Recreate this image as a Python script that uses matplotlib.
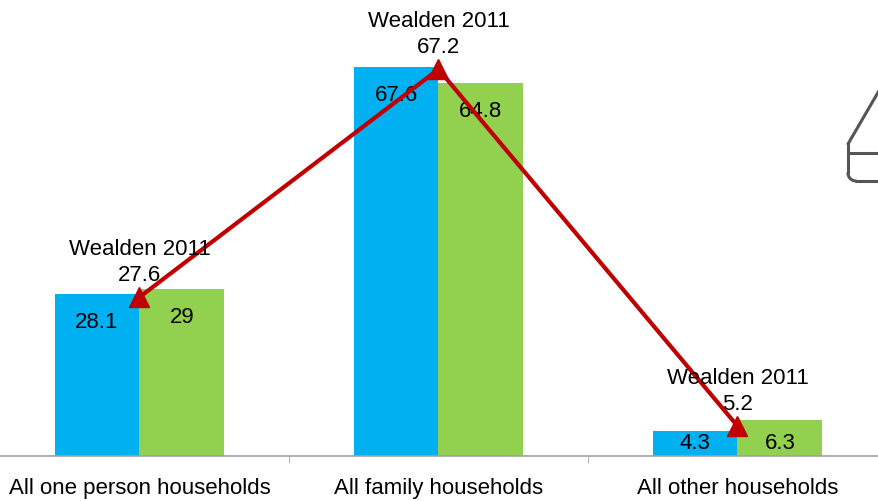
import matplotlib.pyplot as plt
from matplotlib.lines import Line2D
import numpy as np

categories = ['All one person households', 'All family households', 'All other households']
blue_values = [28.1, 67.6, 4.3]
green_values = [29, 64.8, 6.3]
wealden_2011 = [27.6, 67.2, 5.2]
line_label = 'Wealden 2011'

plt.rcParams['font.family'] = ['Liberation Sans', 'DejaVu Sans']
plt.rcParams['font.size'] = 16

fig = plt.figure(figsize=(8.79, 5.02), dpi=100)
ax = fig.add_axes([-10 / 879, 45 / 502, 897 / 879, 457 / 502])

x = np.arange(len(categories))
w = 0.284
ax.bar(x - w / 2, blue_values, w, color='#00B0F0')
ax.bar(x + w / 2, green_values, w, color='#92D050')

for i in range(len(categories)):
    ax.text(x[i] - w / 2, max(blue_values[i] - 4.7, 2.4), str(blue_values[i]),
            ha='center', va='center')
    ax.text(x[i] + w / 2, max(green_values[i] - 4.7, 2.4), str(green_values[i]),
            ha='center', va='center')

ax.plot(x, wealden_2011, color='#C00000', lw=3, marker='^', markersize=14,
        markerfacecolor='#C00000', markeredgecolor='#C00000', zorder=5)
for i, v in enumerate(wealden_2011):
    ax.annotate(f'{line_label}\n{v}', (x[i], v), xytext=(0, 9),
                textcoords='offset points', ha='center', va='bottom',
                linespacing=1.3, zorder=6)

ax.set_xlim(-0.5, 2.5)
ax.set_ylim(0, 457 / 5.755)
ax.set_xticks(x)
ax.set_xticklabels(categories)
ax.tick_params(axis='x', length=0, pad=15)
ax.set_xticks([0.5, 1.5], minor=True)
ax.tick_params(axis='x', which='minor', length=5, color='#A0A0A0')
ax.set_yticks([])
for s in ['top', 'right', 'left']:
    ax.spines[s].set_visible(False)
ax.spines['bottom'].set_color('#A0A0A0')
ax.spines['bottom'].set_linewidth(1.2)

# partial shape peeking in at the right edge
def fx(px):
    return px / 879

def fy(py):
    return 1 - py / 502

shape_kw = dict(color='#555555', lw=2.2, transform=fig.transFigure, solid_capstyle='round')
fig.add_artist(Line2D([fx(880), fx(848)], [fy(90), fy(145)], **shape_kw))
fig.add_artist(Line2D([fx(848), fx(848)], [fy(145), fy(174)], **shape_kw))
t = np.linspace(np.pi, 1.5 * np.pi, 12)
fig.add_artist(Line2D(fx(856 + 8 * np.cos(t)), fy(174 - 8 * np.sin(t)), **shape_kw))
fig.add_artist(Line2D([fx(856), fx(880)], [fy(182), fy(182)], **shape_kw))
fig.add_artist(Line2D([fx(848), fx(880)], [fy(154), fy(154)], **shape_kw))

fig.savefig('out.png', dpi=100)
